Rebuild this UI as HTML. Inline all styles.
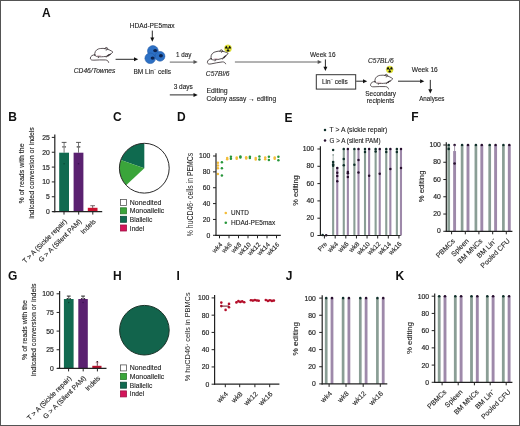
<!DOCTYPE html>
<html><head><meta charset="utf-8"><style>
html,body{margin:0;padding:0;background:#fff;}
svg{display:block;will-change:transform;}
text{font-family:"Liberation Sans", sans-serif;}
text.t{stroke:#262626;stroke-width:0.18px;}
</style></head><body>
<svg width="520" height="426" viewBox="0 0 520 426">
<rect x="0" y="0" width="520" height="426" fill="#fff"/>
<text x="42.00" y="17.40" font-size="12" text-anchor="start" fill="#111" font-weight="bold">A</text>
<g transform="rotate(0 101.65 54.90) translate(87.57,44.36) scale(1.013)" fill="none" stroke="#3c3337" stroke-width="0.82" stroke-linecap="round" stroke-linejoin="round">
<path d="M7.1,10.7 C6.7,8 7.9,5.4 11,4.4 C11.8,4.2 12.4,4.1 13,4.1 C14.6,3.9 16,3.9 17.3,4.2 C19.5,4.6 23.2,5.9 25,7.6 C24,8.9 22.6,9.8 21.4,10.3 C20.4,11.1 19.4,11.7 18.2,11.9 C15,12.3 12,12.4 9.7,12.1 C8.5,11.9 7.6,11.5 7.2,10.6 Z" fill="#fff"/>
<path d="M16.9,4.3 C17.1,2.9 19.1,2.6 19.9,3.9 C19.9,4.9 19.1,5.6 18.3,5.7" stroke-width="0.8"/>
<path d="M7.4,10.3 C5,10.1 3,11.6 2.7,13.5 C2.6,15.2 4.1,15.7 6.2,15.6 C10,15.4 14,15.2 17.8,15.4 C19.7,15.6 20.6,16.6 20.8,17.8" stroke="#3c3337"/>
<path d="M19.2,11.6 L18.6,12.6 M21.3,10.4 L20.6,11.6 M11.2,12.2 L10.6,13.2" stroke-width="0.8"/>
<path d="M9.5,11.2 C11,10.6 12.6,10.9 13.6,11.6" stroke="#c08a9a" stroke-width="0.5"/>
<path d="M19.8,11.2 C20.6,10.4 21.6,9.9 22.4,9.8" stroke-width="1.2"/>
</g>
<text x="73.80" y="72.80" font-size="6.6" text-anchor="start" fill="#1c1c1c" stroke="#1c1c1c" stroke-width="0.12" font-style="italic" textLength="41.60" lengthAdjust="spacingAndGlyphs">CD46/Townes</text>
<line x1="115.60" y1="59.30" x2="134.50" y2="59.30" stroke="#111" stroke-width="0.9"/>
<path d="M138.20,59.30 L134.00,57.30 L134.00,61.30 Z" fill="#111"/>
<text x="129.70" y="27.70" font-size="6.6" text-anchor="start" fill="#1c1c1c" stroke="#1c1c1c" stroke-width="0.12" textLength="45.00" lengthAdjust="spacingAndGlyphs">HDAd-PE5max</text>
<line x1="152.30" y1="30.60" x2="152.30" y2="38.10" stroke="#111" stroke-width="0.9"/>
<path d="M152.30,41.80 L150.30,37.60 L154.30,37.60 Z" fill="#111"/>
<g>
<circle cx="152.90" cy="51.00" r="5.40" fill="#2d70c4" stroke="#1d56a6" stroke-width="0.55"/>
<circle cx="160.00" cy="56.30" r="4.90" fill="#2d70c4" stroke="#1d56a6" stroke-width="0.55"/>
<circle cx="150.20" cy="58.30" r="5.30" fill="#2d70c4" stroke="#1d56a6" stroke-width="0.55"/>
<ellipse cx="155.20" cy="50.60" rx="2.0" ry="1.7" fill="#0b2350"/>
<ellipse cx="160.90" cy="55.80" rx="2.0" ry="1.7" fill="#0b2350"/>
<ellipse cx="152.60" cy="58.10" rx="2.0" ry="1.7" fill="#0b2350"/>
</g>
<text x="133.50" y="73.80" font-size="6.8" text-anchor="start" fill="#1c1c1c" stroke="#1c1c1c" stroke-width="0.12" textLength="37.50" lengthAdjust="spacingAndGlyphs">BM Lin<tspan font-size="4" dy="-2.6">−</tspan><tspan dy="2.6"> cells</tspan></text>
<text x="176.00" y="57.00" font-size="6.6" text-anchor="start" fill="#1c1c1c" stroke="#1c1c1c" stroke-width="0.12" textLength="15.40" lengthAdjust="spacingAndGlyphs">1 day</text>
<line x1="169.80" y1="62.10" x2="194.00" y2="62.10" stroke="#555" stroke-width="0.9"/>
<path d="M197.70,62.10 L193.50,60.10 L193.50,64.10 Z" fill="#555"/>
<g transform="rotate(-9 217.80 57.67) translate(204.14,47.45) scale(0.982)" fill="none" stroke="#3c3337" stroke-width="0.82" stroke-linecap="round" stroke-linejoin="round">
<path d="M7.1,10.7 C6.7,8 7.9,5.4 11,4.4 C11.8,4.2 12.4,4.1 13,4.1 C14.6,3.9 16,3.9 17.3,4.2 C19.5,4.6 23.2,5.9 25,7.6 C24,8.9 22.6,9.8 21.4,10.3 C20.4,11.1 19.4,11.7 18.2,11.9 C15,12.3 12,12.4 9.7,12.1 C8.5,11.9 7.6,11.5 7.2,10.6 Z" fill="#fff"/>
<path d="M16.9,4.3 C17.1,2.9 19.1,2.6 19.9,3.9 C19.9,4.9 19.1,5.6 18.3,5.7" stroke-width="0.8"/>
<path d="M7.4,10.3 C5,10.1 3,11.6 2.7,13.5 C2.6,15.2 4.1,15.7 6.2,15.6 C10,15.4 14,15.2 17.8,15.4 C19.7,15.6 20.6,16.6 20.8,17.8" stroke="#3c3337"/>
<path d="M19.2,11.6 L18.6,12.6 M21.3,10.4 L20.6,11.6 M11.2,12.2 L10.6,13.2" stroke-width="0.8"/>
<path d="M9.5,11.2 C11,10.6 12.6,10.9 13.6,11.6" stroke="#c08a9a" stroke-width="0.5"/>
<path d="M19.8,11.2 C20.6,10.4 21.6,9.9 22.4,9.8" stroke-width="1.2"/>
</g>
<g transform="translate(228.00,48.40)">
<circle r="3.60" fill="#e4e82e" stroke="#c9c83a" stroke-width="0.4"/>
<path d="M0.47,-0.89 L1.44,-2.70 A3.06,3.06 0 0 1 3.06,0.11 L1.01,0.04 Z" fill="#111"/>
<path d="M0.53,0.85 L1.62,2.60 A3.06,3.06 0 0 1 -1.62,2.60 L-0.53,0.85 Z" fill="#111"/>
<path d="M-1.01,0.04 L-3.06,0.11 A3.06,3.06 0 0 1 -1.44,-2.70 L-0.47,-0.89 Z" fill="#111"/>
<circle r="0.65" fill="#111"/>
</g>
<text x="205.80" y="76.40" font-size="6.6" text-anchor="start" fill="#1c1c1c" stroke="#1c1c1c" stroke-width="0.12" font-style="italic" textLength="23.80" lengthAdjust="spacingAndGlyphs">C57Bl/6</text>
<line x1="234.90" y1="62.00" x2="318.20" y2="62.00" stroke="#555" stroke-width="0.9"/>
<path d="M321.90,62.00 L317.70,60.00 L317.70,64.00 Z" fill="#555"/>
<text x="310.00" y="56.70" font-size="6.6" text-anchor="start" fill="#1c1c1c" stroke="#1c1c1c" stroke-width="0.12" textLength="25.60" lengthAdjust="spacingAndGlyphs">Week 16</text>
<line x1="325.40" y1="59.40" x2="325.40" y2="67.20" stroke="#111" stroke-width="0.9"/>
<path d="M325.40,70.90 L323.40,66.70 L327.40,66.70 Z" fill="#111"/>
<rect x="316.30" y="74.70" width="39.40" height="14.40" fill="#fff" stroke="#333" stroke-width="1"/>
<text x="322.00" y="83.60" font-size="6.8" text-anchor="start" fill="#1c1c1c" stroke="#1c1c1c" stroke-width="0.12" textLength="25.70" lengthAdjust="spacingAndGlyphs">Lin<tspan font-size="4" dy="-2.6">−</tspan><tspan dy="2.6"> cells</tspan></text>
<line x1="356.20" y1="81.20" x2="363.50" y2="81.20" stroke="#111" stroke-width="0.9"/>
<path d="M367.20,81.20 L363.00,79.20 L363.00,83.20 Z" fill="#111"/>
<text x="367.90" y="63.40" font-size="6.6" text-anchor="start" fill="#1c1c1c" stroke="#1c1c1c" stroke-width="0.12" font-style="italic" textLength="25.90" lengthAdjust="spacingAndGlyphs">C57BL/6</text>
<g transform="translate(389.70,69.40)">
<circle r="3.50" fill="#e4e82e" stroke="#c9c83a" stroke-width="0.4"/>
<path d="M0.46,-0.87 L1.40,-2.63 A2.98,2.98 0 0 1 2.97,0.10 L0.98,0.03 Z" fill="#111"/>
<path d="M0.52,0.83 L1.58,2.52 A2.98,2.98 0 0 1 -1.58,2.52 L-0.52,0.83 Z" fill="#111"/>
<path d="M-0.98,0.03 L-2.97,0.10 A2.98,2.98 0 0 1 -1.40,-2.63 L-0.46,-0.87 Z" fill="#111"/>
<circle r="0.63" fill="#111"/>
</g>
<g transform="rotate(0 381.70 81.60) translate(367.80,71.20) scale(1.000)" fill="none" stroke="#3c3337" stroke-width="0.82" stroke-linecap="round" stroke-linejoin="round">
<path d="M7.1,10.7 C6.7,8 7.9,5.4 11,4.4 C11.8,4.2 12.4,4.1 13,4.1 C14.6,3.9 16,3.9 17.3,4.2 C19.5,4.6 23.2,5.9 25,7.6 C24,8.9 22.6,9.8 21.4,10.3 C20.4,11.1 19.4,11.7 18.2,11.9 C15,12.3 12,12.4 9.7,12.1 C8.5,11.9 7.6,11.5 7.2,10.6 Z" fill="#fff"/>
<path d="M16.9,4.3 C17.1,2.9 19.1,2.6 19.9,3.9 C19.9,4.9 19.1,5.6 18.3,5.7" stroke-width="0.8"/>
<path d="M7.4,10.3 C5,10.1 3,11.6 2.7,13.5 C2.6,15.2 4.1,15.7 6.2,15.6 C10,15.4 14,15.2 17.8,15.4 C19.7,15.6 20.6,16.6 20.8,17.8" stroke="#3c3337"/>
<path d="M19.2,11.6 L18.6,12.6 M21.3,10.4 L20.6,11.6 M11.2,12.2 L10.6,13.2" stroke-width="0.8"/>
<path d="M9.5,11.2 C11,10.6 12.6,10.9 13.6,11.6" stroke="#c08a9a" stroke-width="0.5"/>
<path d="M19.8,11.2 C20.6,10.4 21.6,9.9 22.4,9.8" stroke-width="1.2"/>
</g>
<text x="365.30" y="95.50" font-size="6.8" text-anchor="start" fill="#1c1c1c" stroke="#1c1c1c" stroke-width="0.12" textLength="30.80" lengthAdjust="spacingAndGlyphs">Secondary</text>
<text x="366.70" y="102.50" font-size="6.8" text-anchor="start" fill="#1c1c1c" stroke="#1c1c1c" stroke-width="0.12" textLength="27.60" lengthAdjust="spacingAndGlyphs">recipients</text>
<line x1="398.00" y1="81.20" x2="420.60" y2="81.20" stroke="#111" stroke-width="0.9"/>
<path d="M424.30,81.20 L420.10,79.20 L420.10,83.20 Z" fill="#111"/>
<text x="411.80" y="71.80" font-size="6.6" text-anchor="start" fill="#1c1c1c" stroke="#1c1c1c" stroke-width="0.12" textLength="26.00" lengthAdjust="spacingAndGlyphs">Week 16</text>
<line x1="430.30" y1="79.90" x2="430.30" y2="89.70" stroke="#111" stroke-width="0.9"/>
<path d="M430.30,93.40 L428.30,89.20 L432.30,89.20 Z" fill="#111"/>
<text x="419.20" y="100.80" font-size="6.8" text-anchor="start" fill="#1c1c1c" stroke="#1c1c1c" stroke-width="0.12" textLength="25.30" lengthAdjust="spacingAndGlyphs">Analyses</text>
<text x="173.70" y="88.60" font-size="6.6" text-anchor="start" fill="#1c1c1c" stroke="#1c1c1c" stroke-width="0.12" textLength="19.20" lengthAdjust="spacingAndGlyphs">3 days</text>
<line x1="169.80" y1="94.90" x2="194.00" y2="94.90" stroke="#111" stroke-width="0.9"/>
<path d="M197.70,94.90 L193.50,92.90 L193.50,96.90 Z" fill="#111"/>
<text x="206.50" y="93.00" font-size="6.8" text-anchor="start" fill="#1c1c1c" stroke="#1c1c1c" stroke-width="0.12" textLength="21.20" lengthAdjust="spacingAndGlyphs">Editing</text>
<text x="206.50" y="101.20" font-size="6.8" text-anchor="start" fill="#1c1c1c" stroke="#1c1c1c" stroke-width="0.12" textLength="69.70" lengthAdjust="spacingAndGlyphs">Colony assay → editing</text>
<text x="8.20" y="121.40" font-size="12" text-anchor="start" fill="#111" font-weight="bold">B</text>
<rect x="59.20" y="152.70" width="9.80" height="58.90" fill="#116a50" stroke="none" stroke-width="0"/>
<rect x="73.60" y="152.70" width="9.80" height="58.90" fill="#5a2170" stroke="none" stroke-width="0"/>
<circle cx="64.10" cy="163.70" r="0.80" fill="#0a4a38" stroke="none" stroke-width="0"/>
<circle cx="78.50" cy="163.70" r="0.80" fill="#3a1050" stroke="none" stroke-width="0"/>
<rect x="87.80" y="207.80" width="9.70" height="3.80" fill="#c8102e" stroke="none" stroke-width="0"/>
<line x1="64.10" y1="152.70" x2="64.10" y2="142.40" stroke="#555" stroke-width="0.8"/>
<line x1="61.70" y1="142.40" x2="66.50" y2="142.40" stroke="#444" stroke-width="0.9"/>
<circle cx="63.00" cy="146.80" r="0.85" fill="#666" stroke="none" stroke-width="0"/>
<circle cx="65.20" cy="146.80" r="0.85" fill="#666" stroke="none" stroke-width="0"/>
<line x1="78.50" y1="152.70" x2="78.50" y2="142.40" stroke="#555" stroke-width="0.8"/>
<line x1="76.10" y1="142.40" x2="80.90" y2="142.40" stroke="#444" stroke-width="0.9"/>
<circle cx="77.40" cy="146.80" r="0.85" fill="#666" stroke="none" stroke-width="0"/>
<circle cx="79.60" cy="146.80" r="0.85" fill="#666" stroke="none" stroke-width="0"/>
<line x1="92.70" y1="207.80" x2="92.70" y2="205.70" stroke="#3a1a20" stroke-width="0.8"/>
<line x1="90.30" y1="205.70" x2="95.00" y2="205.70" stroke="#6a5a60" stroke-width="0.9"/>
<line x1="54.80" y1="134.60" x2="54.80" y2="212.20" stroke="#222" stroke-width="1.2"/>
<line x1="51.80" y1="211.60" x2="54.80" y2="211.60" stroke="#222" stroke-width="1.0"/>
<text x="49.70" y="214.10" font-size="6.8" text-anchor="end" fill="#262626" class="t">0</text>
<line x1="51.80" y1="196.76" x2="54.80" y2="196.76" stroke="#222" stroke-width="1.0"/>
<text x="49.70" y="199.26" font-size="6.8" text-anchor="end" fill="#262626" class="t">5</text>
<line x1="51.80" y1="181.92" x2="54.80" y2="181.92" stroke="#222" stroke-width="1.0"/>
<text x="49.70" y="184.42" font-size="6.8" text-anchor="end" fill="#262626" class="t">10</text>
<line x1="51.80" y1="167.08" x2="54.80" y2="167.08" stroke="#222" stroke-width="1.0"/>
<text x="49.70" y="169.58" font-size="6.8" text-anchor="end" fill="#262626" class="t">15</text>
<line x1="51.80" y1="152.24" x2="54.80" y2="152.24" stroke="#222" stroke-width="1.0"/>
<text x="49.70" y="154.74" font-size="6.8" text-anchor="end" fill="#262626" class="t">20</text>
<line x1="51.80" y1="137.40" x2="54.80" y2="137.40" stroke="#222" stroke-width="1.0"/>
<text x="49.70" y="139.90" font-size="6.8" text-anchor="end" fill="#262626" class="t">25</text>
<line x1="52.50" y1="211.60" x2="102.20" y2="211.60" stroke="#222" stroke-width="1.2"/>
<line x1="64.00" y1="211.60" x2="64.00" y2="214.60" stroke="#222" stroke-width="1.0"/>
<line x1="78.70" y1="211.60" x2="78.70" y2="214.60" stroke="#222" stroke-width="1.0"/>
<line x1="92.80" y1="211.60" x2="92.80" y2="214.60" stroke="#222" stroke-width="1.0"/>
<text x="24.00" y="173.40" font-size="7.6" text-anchor="middle" fill="#1c1c1c" stroke="#1c1c1c" stroke-width="0.12" textLength="60.00" lengthAdjust="spacingAndGlyphs" transform="rotate(-90 24.00 173.40)">% of reads with the</text>
<text x="34.20" y="173.00" font-size="7.6" text-anchor="middle" fill="#1c1c1c" stroke="#1c1c1c" stroke-width="0.12" textLength="91.60" lengthAdjust="spacingAndGlyphs" transform="rotate(-90 34.20 173.00)">indicated conversion or indels</text>
<text x="67.30" y="221.80" font-size="6.8" text-anchor="end" fill="#262626" stroke="#262626" stroke-width="0.12" textLength="59.50" lengthAdjust="spacingAndGlyphs" transform="rotate(-45 67.30 221.80)">T &gt; A (Sickle repair)</text>
<text x="82.00" y="221.80" font-size="6.8" text-anchor="end" fill="#262626" stroke="#262626" stroke-width="0.12" textLength="57.50" lengthAdjust="spacingAndGlyphs" transform="rotate(-45 82.00 221.80)">G &gt; A (Silent PAM)</text>
<text x="96.10" y="221.80" font-size="6.8" text-anchor="end" fill="#262626" stroke="#262626" stroke-width="0.12" textLength="18.00" lengthAdjust="spacingAndGlyphs" transform="rotate(-45 96.10 221.80)">Indels</text>
<text x="113.00" y="121.40" font-size="12" text-anchor="start" fill="#111" font-weight="bold">C</text>
<circle cx="144.30" cy="168.20" r="24.90" fill="#fff" stroke="none" stroke-width="0"/>
<path d="M144.3,168.2 L144.30,143.30 A24.9,24.9 0 0 0 120.76,160.09 Z" fill="#0f6a4f"/>
<path d="M144.3,168.2 L120.76,160.09 A24.9,24.9 0 0 0 126.09,185.18 Z" fill="#3aa53a"/>
<circle cx="144.30" cy="168.20" r="24.90" fill="none" stroke="#2a2a2a" stroke-width="1.0"/>
<rect x="120.50" y="199.40" width="6.00" height="6.00" fill="#fff" stroke="#555" stroke-width="0.8"/>
<text x="129.80" y="204.90" font-size="7.2" text-anchor="start" fill="#1c1c1c" stroke="#1c1c1c" stroke-width="0.12" textLength="31.70" lengthAdjust="spacingAndGlyphs">Nonedited</text>
<rect x="120.50" y="207.80" width="6.00" height="6.00" fill="#3aa53a" stroke="#2a7a2a" stroke-width="0.8"/>
<text x="129.80" y="213.30" font-size="7.2" text-anchor="start" fill="#1c1c1c" stroke="#1c1c1c" stroke-width="0.12" textLength="34.50" lengthAdjust="spacingAndGlyphs">Monoallelic</text>
<rect x="120.50" y="216.30" width="6.00" height="6.00" fill="#0f6a4f" stroke="#0a4a38" stroke-width="0.8"/>
<text x="129.80" y="221.80" font-size="7.2" text-anchor="start" fill="#1c1c1c" stroke="#1c1c1c" stroke-width="0.12" textLength="22.50" lengthAdjust="spacingAndGlyphs">Biallelic</text>
<rect x="120.50" y="225.00" width="6.00" height="6.00" fill="#d4145a" stroke="#a00f45" stroke-width="0.8"/>
<text x="129.80" y="230.50" font-size="7.2" text-anchor="start" fill="#1c1c1c" stroke="#1c1c1c" stroke-width="0.12" textLength="14.50" lengthAdjust="spacingAndGlyphs">Indel</text>
<text x="177.00" y="121.00" font-size="12" text-anchor="start" fill="#111" font-weight="bold">D</text>
<circle cx="217.90" cy="162.74" r="1.25" fill="#f3bd3a" stroke="none" stroke-width="0"/>
<circle cx="217.90" cy="165.52" r="1.25" fill="#f3bd3a" stroke="none" stroke-width="0"/>
<circle cx="217.90" cy="168.13" r="1.25" fill="#f3bd3a" stroke="none" stroke-width="0"/>
<circle cx="217.90" cy="174.08" r="1.25" fill="#f3bd3a" stroke="none" stroke-width="0"/>
<circle cx="221.90" cy="162.34" r="1.25" fill="#27963a" stroke="none" stroke-width="0"/>
<circle cx="221.90" cy="168.37" r="1.25" fill="#27963a" stroke="none" stroke-width="0"/>
<circle cx="221.90" cy="175.51" r="1.25" fill="#27963a" stroke="none" stroke-width="0"/>
<circle cx="227.20" cy="157.98" r="1.25" fill="#f3bd3a" stroke="none" stroke-width="0"/>
<circle cx="227.20" cy="159.33" r="1.25" fill="#f3bd3a" stroke="none" stroke-width="0"/>
<circle cx="230.90" cy="156.63" r="1.25" fill="#27963a" stroke="none" stroke-width="0"/>
<circle cx="230.90" cy="158.70" r="1.25" fill="#27963a" stroke="none" stroke-width="0"/>
<circle cx="236.70" cy="157.59" r="1.25" fill="#f3bd3a" stroke="none" stroke-width="0"/>
<circle cx="236.70" cy="158.78" r="1.25" fill="#f3bd3a" stroke="none" stroke-width="0"/>
<circle cx="240.40" cy="156.40" r="1.25" fill="#27963a" stroke="none" stroke-width="0"/>
<circle cx="240.40" cy="157.59" r="1.25" fill="#27963a" stroke="none" stroke-width="0"/>
<circle cx="246.20" cy="157.19" r="1.25" fill="#f3bd3a" stroke="none" stroke-width="0"/>
<circle cx="246.20" cy="158.38" r="1.25" fill="#f3bd3a" stroke="none" stroke-width="0"/>
<circle cx="249.90" cy="156.79" r="1.25" fill="#27963a" stroke="none" stroke-width="0"/>
<circle cx="249.90" cy="157.98" r="1.25" fill="#27963a" stroke="none" stroke-width="0"/>
<circle cx="255.70" cy="157.98" r="1.25" fill="#f3bd3a" stroke="none" stroke-width="0"/>
<circle cx="255.70" cy="159.57" r="1.25" fill="#f3bd3a" stroke="none" stroke-width="0"/>
<circle cx="259.40" cy="156.40" r="1.25" fill="#27963a" stroke="none" stroke-width="0"/>
<circle cx="259.40" cy="159.57" r="1.25" fill="#27963a" stroke="none" stroke-width="0"/>
<circle cx="265.20" cy="157.59" r="1.25" fill="#f3bd3a" stroke="none" stroke-width="0"/>
<circle cx="265.20" cy="159.17" r="1.25" fill="#f3bd3a" stroke="none" stroke-width="0"/>
<circle cx="268.90" cy="156.79" r="1.25" fill="#27963a" stroke="none" stroke-width="0"/>
<circle cx="268.90" cy="159.97" r="1.25" fill="#27963a" stroke="none" stroke-width="0"/>
<circle cx="274.70" cy="157.59" r="1.25" fill="#f3bd3a" stroke="none" stroke-width="0"/>
<circle cx="274.70" cy="158.78" r="1.25" fill="#f3bd3a" stroke="none" stroke-width="0"/>
<circle cx="278.40" cy="156.79" r="1.25" fill="#27963a" stroke="none" stroke-width="0"/>
<circle cx="278.40" cy="160.36" r="1.25" fill="#27963a" stroke="none" stroke-width="0"/>
<line x1="216.00" y1="153.20" x2="216.00" y2="235.90" stroke="#222" stroke-width="1.2"/>
<line x1="213.00" y1="235.30" x2="216.00" y2="235.30" stroke="#222" stroke-width="1.0"/>
<text x="210.30" y="237.50" font-size="6.8" text-anchor="end" fill="#262626" class="t">0</text>
<line x1="213.00" y1="219.44" x2="216.00" y2="219.44" stroke="#222" stroke-width="1.0"/>
<text x="210.30" y="221.64" font-size="6.8" text-anchor="end" fill="#262626" class="t">20</text>
<line x1="213.00" y1="203.58" x2="216.00" y2="203.58" stroke="#222" stroke-width="1.0"/>
<text x="210.30" y="205.78" font-size="6.8" text-anchor="end" fill="#262626" class="t">40</text>
<line x1="213.00" y1="187.72" x2="216.00" y2="187.72" stroke="#222" stroke-width="1.0"/>
<text x="210.30" y="189.92" font-size="6.8" text-anchor="end" fill="#262626" class="t">60</text>
<line x1="213.00" y1="171.86" x2="216.00" y2="171.86" stroke="#222" stroke-width="1.0"/>
<text x="210.30" y="174.06" font-size="6.8" text-anchor="end" fill="#262626" class="t">80</text>
<line x1="213.00" y1="156.00" x2="216.00" y2="156.00" stroke="#222" stroke-width="1.0"/>
<text x="210.30" y="158.20" font-size="6.8" text-anchor="end" fill="#262626" class="t">100</text>
<line x1="215.40" y1="235.30" x2="280.80" y2="235.30" stroke="#222" stroke-width="1.2"/>
<line x1="219.50" y1="235.30" x2="219.50" y2="238.30" stroke="#222" stroke-width="1.0"/>
<line x1="229.00" y1="235.30" x2="229.00" y2="238.30" stroke="#222" stroke-width="1.0"/>
<line x1="238.50" y1="235.30" x2="238.50" y2="238.30" stroke="#222" stroke-width="1.0"/>
<line x1="248.00" y1="235.30" x2="248.00" y2="238.30" stroke="#222" stroke-width="1.0"/>
<line x1="257.50" y1="235.30" x2="257.50" y2="238.30" stroke="#222" stroke-width="1.0"/>
<line x1="267.00" y1="235.30" x2="267.00" y2="238.30" stroke="#222" stroke-width="1.0"/>
<line x1="276.50" y1="235.30" x2="276.50" y2="238.30" stroke="#222" stroke-width="1.0"/>
<circle cx="225.80" cy="213.00" r="1.30" fill="#f3bd3a" stroke="none" stroke-width="0"/>
<text x="231.00" y="215.40" font-size="7.2" text-anchor="start" fill="#1c1c1c" stroke="#1c1c1c" stroke-width="0.12" textLength="17.80" lengthAdjust="spacingAndGlyphs">UNTD</text>
<circle cx="225.80" cy="222.70" r="1.30" fill="#27963a" stroke="none" stroke-width="0"/>
<text x="231.00" y="225.10" font-size="7.2" text-anchor="start" fill="#1c1c1c" stroke="#1c1c1c" stroke-width="0.12" textLength="44.20" lengthAdjust="spacingAndGlyphs">HDAd-PE5max</text>
<text x="193.40" y="194.50" font-size="8.2" text-anchor="middle" fill="#1c1c1c" textLength="83.30" lengthAdjust="spacingAndGlyphs" transform="rotate(-90 193.40 194.50)" class="n">% huCD46<tspan font-size="4.2" dy="-2.6">+</tspan><tspan dy="2.6"> cells in PEMCs</tspan></text>
<text x="222.80" y="245.10" font-size="6.4" text-anchor="end" fill="#262626" stroke="#262626" stroke-width="0.12" transform="rotate(-45 222.80 245.10)">wk4</text>
<text x="232.30" y="245.10" font-size="6.4" text-anchor="end" fill="#262626" stroke="#262626" stroke-width="0.12" transform="rotate(-45 232.30 245.10)">wk6</text>
<text x="241.80" y="245.10" font-size="6.4" text-anchor="end" fill="#262626" stroke="#262626" stroke-width="0.12" transform="rotate(-45 241.80 245.10)">wk8</text>
<text x="251.30" y="245.10" font-size="6.4" text-anchor="end" fill="#262626" stroke="#262626" stroke-width="0.12" transform="rotate(-45 251.30 245.10)">wk10</text>
<text x="260.80" y="245.10" font-size="6.4" text-anchor="end" fill="#262626" stroke="#262626" stroke-width="0.12" transform="rotate(-45 260.80 245.10)">wk12</text>
<text x="270.30" y="245.10" font-size="6.4" text-anchor="end" fill="#262626" stroke="#262626" stroke-width="0.12" transform="rotate(-45 270.30 245.10)">wk14</text>
<text x="279.80" y="245.10" font-size="6.4" text-anchor="end" fill="#262626" stroke="#262626" stroke-width="0.12" transform="rotate(-45 279.80 245.10)">wk16</text>
<text x="284.60" y="121.60" font-size="12" text-anchor="start" fill="#111" font-weight="bold">E</text>
<circle cx="325.00" cy="130.00" r="1.25" fill="#10302a" stroke="none" stroke-width="0"/>
<text x="329.60" y="132.40" font-size="7.0" text-anchor="start" fill="#1c1c1c" stroke="#1c1c1c" stroke-width="0.12" textLength="57.70" lengthAdjust="spacingAndGlyphs">T &gt; A (sickle repair)</text>
<circle cx="325.00" cy="140.40" r="1.25" fill="#28102f" stroke="none" stroke-width="0"/>
<text x="329.60" y="142.80" font-size="7.0" text-anchor="start" fill="#1c1c1c" stroke="#1c1c1c" stroke-width="0.12" textLength="51.00" lengthAdjust="spacingAndGlyphs">G &gt; A (silent PAM)</text>
<circle cx="322.60" cy="235.07" r="1.25" fill="#10302a" stroke="none" stroke-width="0"/>
<circle cx="326.20" cy="235.24" r="1.25" fill="#28102f" stroke="none" stroke-width="0"/>
<rect x="332.10" y="161.11" width="2.10" height="74.39" fill="#8a9e95" stroke="none" stroke-width="0"/>
<rect x="336.20" y="167.17" width="2.10" height="68.33" fill="#9e89aa" stroke="none" stroke-width="0"/>
<line x1="333.15" y1="161.11" x2="333.15" y2="154.62" stroke="#9aaaa4" stroke-width="0.8"/>
<circle cx="333.15" cy="154.88" r="0.80" fill="#8a9a94" stroke="none" stroke-width="0"/>
<circle cx="333.15" cy="150.04" r="1.25" fill="#10302a" stroke="none" stroke-width="0"/>
<circle cx="333.15" cy="161.97" r="1.25" fill="#10302a" stroke="none" stroke-width="0"/>
<circle cx="333.15" cy="164.57" r="1.25" fill="#10302a" stroke="none" stroke-width="0"/>
<circle cx="333.15" cy="165.87" r="1.25" fill="#10302a" stroke="none" stroke-width="0"/>
<circle cx="337.25" cy="168.03" r="1.25" fill="#28102f" stroke="none" stroke-width="0"/>
<circle cx="337.25" cy="172.79" r="1.25" fill="#28102f" stroke="none" stroke-width="0"/>
<circle cx="337.25" cy="176.07" r="1.25" fill="#28102f" stroke="none" stroke-width="0"/>
<circle cx="337.25" cy="181.35" r="1.25" fill="#28102f" stroke="none" stroke-width="0"/>
<rect x="342.72" y="149.00" width="2.10" height="86.50" fill="#8a9e95" stroke="none" stroke-width="0"/>
<rect x="346.82" y="149.00" width="2.10" height="86.50" fill="#9e89aa" stroke="none" stroke-width="0"/>
<circle cx="343.77" cy="149.00" r="1.25" fill="#10302a" stroke="none" stroke-width="0"/>
<circle cx="343.77" cy="158.95" r="1.25" fill="#10302a" stroke="none" stroke-width="0"/>
<circle cx="343.77" cy="165.26" r="1.25" fill="#10302a" stroke="none" stroke-width="0"/>
<circle cx="347.87" cy="149.00" r="1.25" fill="#28102f" stroke="none" stroke-width="0"/>
<circle cx="347.87" cy="171.92" r="1.25" fill="#28102f" stroke="none" stroke-width="0"/>
<circle cx="347.87" cy="173.22" r="1.25" fill="#28102f" stroke="none" stroke-width="0"/>
<circle cx="347.87" cy="177.03" r="1.25" fill="#28102f" stroke="none" stroke-width="0"/>
<rect x="353.34" y="149.00" width="2.10" height="86.50" fill="#8a9e95" stroke="none" stroke-width="0"/>
<rect x="357.44" y="149.00" width="2.10" height="86.50" fill="#9e89aa" stroke="none" stroke-width="0"/>
<circle cx="354.39" cy="149.00" r="1.25" fill="#10302a" stroke="none" stroke-width="0"/>
<circle cx="354.39" cy="164.74" r="1.25" fill="#10302a" stroke="none" stroke-width="0"/>
<circle cx="358.49" cy="149.00" r="1.25" fill="#28102f" stroke="none" stroke-width="0"/>
<circle cx="358.49" cy="160.07" r="1.25" fill="#28102f" stroke="none" stroke-width="0"/>
<circle cx="358.49" cy="172.53" r="1.25" fill="#28102f" stroke="none" stroke-width="0"/>
<rect x="363.96" y="149.00" width="2.10" height="86.50" fill="#8a9e95" stroke="none" stroke-width="0"/>
<rect x="368.06" y="149.00" width="2.10" height="86.50" fill="#9e89aa" stroke="none" stroke-width="0"/>
<circle cx="365.01" cy="149.00" r="1.25" fill="#10302a" stroke="none" stroke-width="0"/>
<circle cx="365.01" cy="152.03" r="1.25" fill="#10302a" stroke="none" stroke-width="0"/>
<circle cx="369.11" cy="149.00" r="1.25" fill="#28102f" stroke="none" stroke-width="0"/>
<circle cx="369.11" cy="175.81" r="1.25" fill="#28102f" stroke="none" stroke-width="0"/>
<rect x="374.58" y="149.00" width="2.10" height="86.50" fill="#8a9e95" stroke="none" stroke-width="0"/>
<rect x="378.68" y="149.00" width="2.10" height="86.50" fill="#9e89aa" stroke="none" stroke-width="0"/>
<circle cx="375.63" cy="149.00" r="1.25" fill="#10302a" stroke="none" stroke-width="0"/>
<circle cx="375.63" cy="151.59" r="1.25" fill="#10302a" stroke="none" stroke-width="0"/>
<circle cx="379.73" cy="149.00" r="1.25" fill="#28102f" stroke="none" stroke-width="0"/>
<circle cx="379.73" cy="173.65" r="1.25" fill="#28102f" stroke="none" stroke-width="0"/>
<rect x="385.20" y="149.00" width="2.10" height="86.50" fill="#8a9e95" stroke="none" stroke-width="0"/>
<rect x="389.30" y="149.00" width="2.10" height="86.50" fill="#9e89aa" stroke="none" stroke-width="0"/>
<circle cx="386.25" cy="149.00" r="1.25" fill="#10302a" stroke="none" stroke-width="0"/>
<circle cx="386.25" cy="152.03" r="1.25" fill="#10302a" stroke="none" stroke-width="0"/>
<circle cx="390.35" cy="149.00" r="1.25" fill="#28102f" stroke="none" stroke-width="0"/>
<circle cx="390.35" cy="168.89" r="1.25" fill="#28102f" stroke="none" stroke-width="0"/>
<rect x="395.82" y="149.00" width="2.10" height="86.50" fill="#8a9e95" stroke="none" stroke-width="0"/>
<rect x="399.92" y="149.00" width="2.10" height="86.50" fill="#9e89aa" stroke="none" stroke-width="0"/>
<circle cx="396.87" cy="149.00" r="1.25" fill="#10302a" stroke="none" stroke-width="0"/>
<circle cx="396.87" cy="152.03" r="1.25" fill="#10302a" stroke="none" stroke-width="0"/>
<circle cx="400.97" cy="149.00" r="1.25" fill="#28102f" stroke="none" stroke-width="0"/>
<circle cx="400.97" cy="168.03" r="1.25" fill="#28102f" stroke="none" stroke-width="0"/>
<line x1="320.40" y1="146.20" x2="320.40" y2="236.10" stroke="#222" stroke-width="1.2"/>
<line x1="317.40" y1="235.50" x2="320.40" y2="235.50" stroke="#222" stroke-width="1.0"/>
<text x="314.10" y="237.40" font-size="6.8" text-anchor="end" fill="#262626" class="t">0</text>
<line x1="317.40" y1="218.20" x2="320.40" y2="218.20" stroke="#222" stroke-width="1.0"/>
<text x="314.10" y="220.10" font-size="6.8" text-anchor="end" fill="#262626" class="t">20</text>
<line x1="317.40" y1="200.90" x2="320.40" y2="200.90" stroke="#222" stroke-width="1.0"/>
<text x="314.10" y="202.80" font-size="6.8" text-anchor="end" fill="#262626" class="t">40</text>
<line x1="317.40" y1="183.60" x2="320.40" y2="183.60" stroke="#222" stroke-width="1.0"/>
<text x="314.10" y="185.50" font-size="6.8" text-anchor="end" fill="#262626" class="t">60</text>
<line x1="317.40" y1="166.30" x2="320.40" y2="166.30" stroke="#222" stroke-width="1.0"/>
<text x="314.10" y="168.20" font-size="6.8" text-anchor="end" fill="#262626" class="t">80</text>
<line x1="317.40" y1="149.00" x2="320.40" y2="149.00" stroke="#222" stroke-width="1.0"/>
<text x="314.10" y="150.90" font-size="6.8" text-anchor="end" fill="#262626" class="t">100</text>
<line x1="319.80" y1="235.50" x2="400.60" y2="235.50" stroke="#222" stroke-width="1.2"/>
<line x1="324.40" y1="235.50" x2="324.40" y2="238.50" stroke="#222" stroke-width="1.0"/>
<line x1="335.20" y1="235.50" x2="335.20" y2="238.50" stroke="#222" stroke-width="1.0"/>
<line x1="345.82" y1="235.50" x2="345.82" y2="238.50" stroke="#222" stroke-width="1.0"/>
<line x1="356.44" y1="235.50" x2="356.44" y2="238.50" stroke="#222" stroke-width="1.0"/>
<line x1="367.06" y1="235.50" x2="367.06" y2="238.50" stroke="#222" stroke-width="1.0"/>
<line x1="377.68" y1="235.50" x2="377.68" y2="238.50" stroke="#222" stroke-width="1.0"/>
<line x1="388.30" y1="235.50" x2="388.30" y2="238.50" stroke="#222" stroke-width="1.0"/>
<line x1="398.92" y1="235.50" x2="398.92" y2="238.50" stroke="#222" stroke-width="1.0"/>
<text x="298.00" y="190.50" font-size="7.6" text-anchor="middle" fill="#1c1c1c" stroke="#1c1c1c" stroke-width="0.12" textLength="30.50" lengthAdjust="spacingAndGlyphs" transform="rotate(-90 298.00 190.50)">% editing</text>
<text x="327.70" y="244.40" font-size="6.6" text-anchor="end" fill="#262626" stroke="#262626" stroke-width="0.12" transform="rotate(-45 327.70 244.40)">Pre</text>
<text x="338.50" y="244.40" font-size="6.6" text-anchor="end" fill="#262626" stroke="#262626" stroke-width="0.12" transform="rotate(-45 338.50 244.40)">wk4</text>
<text x="349.12" y="244.40" font-size="6.6" text-anchor="end" fill="#262626" stroke="#262626" stroke-width="0.12" transform="rotate(-45 349.12 244.40)">wk6</text>
<text x="359.74" y="244.40" font-size="6.6" text-anchor="end" fill="#262626" stroke="#262626" stroke-width="0.12" transform="rotate(-45 359.74 244.40)">wk8</text>
<text x="370.36" y="244.40" font-size="6.6" text-anchor="end" fill="#262626" stroke="#262626" stroke-width="0.12" transform="rotate(-45 370.36 244.40)">wk10</text>
<text x="380.98" y="244.40" font-size="6.6" text-anchor="end" fill="#262626" stroke="#262626" stroke-width="0.12" transform="rotate(-45 380.98 244.40)">wk12</text>
<text x="391.60" y="244.40" font-size="6.6" text-anchor="end" fill="#262626" stroke="#262626" stroke-width="0.12" transform="rotate(-45 391.60 244.40)">wk14</text>
<text x="402.22" y="244.40" font-size="6.6" text-anchor="end" fill="#262626" stroke="#262626" stroke-width="0.12" transform="rotate(-45 402.22 244.40)">wk16</text>
<text x="411.30" y="120.70" font-size="12" text-anchor="start" fill="#111" font-weight="bold">F</text>
<rect x="447.35" y="145.00" width="2.70" height="86.30" fill="#8a9e95" stroke="none" stroke-width="0"/>
<rect x="453.15" y="151.04" width="2.90" height="80.26" fill="#9e89aa" stroke="none" stroke-width="0"/>
<circle cx="448.70" cy="145.00" r="1.30" fill="#10302a" stroke="none" stroke-width="0"/>
<circle cx="454.60" cy="145.00" r="1.30" fill="#28102f" stroke="none" stroke-width="0"/>
<circle cx="448.70" cy="148.88" r="1.30" fill="#10302a" stroke="none" stroke-width="0"/>
<circle cx="454.60" cy="163.55" r="1.30" fill="#28102f" stroke="none" stroke-width="0"/>
<line x1="454.60" y1="151.04" x2="454.60" y2="145.00" stroke="#6a5075" stroke-width="0.6"/>
<rect x="460.75" y="145.00" width="2.70" height="86.30" fill="#8a9e95" stroke="none" stroke-width="0"/>
<rect x="466.55" y="145.00" width="2.90" height="86.30" fill="#9e89aa" stroke="none" stroke-width="0"/>
<circle cx="462.10" cy="145.00" r="1.30" fill="#10302a" stroke="none" stroke-width="0"/>
<circle cx="468.00" cy="145.00" r="1.30" fill="#28102f" stroke="none" stroke-width="0"/>
<rect x="474.55" y="145.00" width="2.70" height="86.30" fill="#8a9e95" stroke="none" stroke-width="0"/>
<rect x="480.35" y="145.00" width="2.90" height="86.30" fill="#9e89aa" stroke="none" stroke-width="0"/>
<circle cx="475.90" cy="145.00" r="1.30" fill="#10302a" stroke="none" stroke-width="0"/>
<circle cx="481.80" cy="145.00" r="1.30" fill="#28102f" stroke="none" stroke-width="0"/>
<rect x="488.35" y="145.00" width="2.70" height="86.30" fill="#8a9e95" stroke="none" stroke-width="0"/>
<rect x="494.15" y="145.00" width="2.90" height="86.30" fill="#9e89aa" stroke="none" stroke-width="0"/>
<circle cx="489.70" cy="145.00" r="1.30" fill="#10302a" stroke="none" stroke-width="0"/>
<circle cx="495.60" cy="145.00" r="1.30" fill="#28102f" stroke="none" stroke-width="0"/>
<rect x="502.05" y="145.00" width="2.70" height="86.30" fill="#8a9e95" stroke="none" stroke-width="0"/>
<rect x="507.85" y="145.00" width="2.90" height="86.30" fill="#9e89aa" stroke="none" stroke-width="0"/>
<circle cx="503.40" cy="145.00" r="1.30" fill="#10302a" stroke="none" stroke-width="0"/>
<circle cx="509.30" cy="145.00" r="1.30" fill="#28102f" stroke="none" stroke-width="0"/>
<line x1="446.30" y1="142.20" x2="446.30" y2="231.90" stroke="#222" stroke-width="1.2"/>
<line x1="443.30" y1="231.30" x2="446.30" y2="231.30" stroke="#222" stroke-width="1.0"/>
<text x="440.80" y="233.40" font-size="6.8" text-anchor="end" fill="#262626" class="t">0</text>
<line x1="443.30" y1="214.04" x2="446.30" y2="214.04" stroke="#222" stroke-width="1.0"/>
<text x="440.80" y="216.14" font-size="6.8" text-anchor="end" fill="#262626" class="t">20</text>
<line x1="443.30" y1="196.78" x2="446.30" y2="196.78" stroke="#222" stroke-width="1.0"/>
<text x="440.80" y="198.88" font-size="6.8" text-anchor="end" fill="#262626" class="t">40</text>
<line x1="443.30" y1="179.52" x2="446.30" y2="179.52" stroke="#222" stroke-width="1.0"/>
<text x="440.80" y="181.62" font-size="6.8" text-anchor="end" fill="#262626" class="t">60</text>
<line x1="443.30" y1="162.26" x2="446.30" y2="162.26" stroke="#222" stroke-width="1.0"/>
<text x="440.80" y="164.36" font-size="6.8" text-anchor="end" fill="#262626" class="t">80</text>
<line x1="443.30" y1="145.00" x2="446.30" y2="145.00" stroke="#222" stroke-width="1.0"/>
<text x="440.80" y="147.10" font-size="6.8" text-anchor="end" fill="#262626" class="t">100</text>
<line x1="445.70" y1="231.30" x2="512.40" y2="231.30" stroke="#222" stroke-width="1.2"/>
<line x1="451.60" y1="231.30" x2="451.60" y2="234.30" stroke="#222" stroke-width="1.0"/>
<line x1="465.30" y1="231.30" x2="465.30" y2="234.30" stroke="#222" stroke-width="1.0"/>
<line x1="478.90" y1="231.30" x2="478.90" y2="234.30" stroke="#222" stroke-width="1.0"/>
<line x1="492.70" y1="231.30" x2="492.70" y2="234.30" stroke="#222" stroke-width="1.0"/>
<line x1="506.30" y1="231.30" x2="506.30" y2="234.30" stroke="#222" stroke-width="1.0"/>
<text x="423.60" y="186.40" font-size="7.6" text-anchor="middle" fill="#1c1c1c" stroke="#1c1c1c" stroke-width="0.12" textLength="31.70" lengthAdjust="spacingAndGlyphs" transform="rotate(-90 423.60 186.40)">% editing</text>
<text x="455.60" y="241.50" font-size="7.0" text-anchor="end" fill="#262626" stroke="#262626" stroke-width="0.12" transform="rotate(-45 455.60 241.50)">PBMCs</text>
<text x="469.30" y="241.50" font-size="7.0" text-anchor="end" fill="#262626" stroke="#262626" stroke-width="0.12" transform="rotate(-45 469.30 241.50)">Spleen</text>
<text x="482.90" y="241.50" font-size="7.0" text-anchor="end" fill="#262626" stroke="#262626" stroke-width="0.12" transform="rotate(-45 482.90 241.50)">BM MNCs</text>
<text x="496.70" y="241.50" font-size="7.0" text-anchor="end" fill="#262626" stroke="#262626" stroke-width="0.12" transform="rotate(-45 496.70 241.50)">BM Lin<tspan font-size="4" dy="-2.6">−</tspan><tspan dy="2.6"></tspan></text>
<text x="510.30" y="241.50" font-size="7.0" text-anchor="end" fill="#262626" stroke="#262626" stroke-width="0.12" transform="rotate(-45 510.30 241.50)">Pooled CFU</text>
<text x="8.00" y="279.80" font-size="12" text-anchor="start" fill="#111" font-weight="bold">G</text>
<rect x="63.90" y="299.02" width="9.70" height="69.38" fill="#116a50" stroke="none" stroke-width="0"/>
<rect x="78.30" y="299.02" width="9.50" height="69.38" fill="#5a2170" stroke="none" stroke-width="0"/>
<rect x="92.30" y="365.80" width="9.20" height="2.60" fill="#b8102c" stroke="none" stroke-width="0"/>
<line x1="68.75" y1="299.02" x2="68.75" y2="296.10" stroke="#333" stroke-width="0.8"/>
<line x1="66.85" y1="296.10" x2="70.65" y2="296.10" stroke="#222" stroke-width="1.0"/>
<circle cx="67.35" cy="298.70" r="0.80" fill="#1a2a25" stroke="none" stroke-width="0"/>
<circle cx="70.15" cy="298.70" r="0.80" fill="#1a2a25" stroke="none" stroke-width="0"/>
<circle cx="68.75" cy="302.50" r="0.70" fill="#0a3a2a" stroke="none" stroke-width="0"/>
<line x1="83.05" y1="299.02" x2="83.05" y2="296.10" stroke="#333" stroke-width="0.8"/>
<line x1="81.15" y1="296.10" x2="84.95" y2="296.10" stroke="#222" stroke-width="1.0"/>
<circle cx="81.65" cy="298.70" r="0.80" fill="#2a1530" stroke="none" stroke-width="0"/>
<circle cx="84.45" cy="298.70" r="0.80" fill="#2a1530" stroke="none" stroke-width="0"/>
<circle cx="83.05" cy="302.50" r="0.70" fill="#3a1050" stroke="none" stroke-width="0"/>
<line x1="97.30" y1="365.80" x2="97.30" y2="361.80" stroke="#3a0a18" stroke-width="0.8"/>
<circle cx="97.30" cy="361.90" r="0.90" fill="#2a0a12" stroke="none" stroke-width="0"/>
<line x1="95.30" y1="362.80" x2="99.30" y2="362.80" stroke="#e0a0b0" stroke-width="0.6"/>
<line x1="59.60" y1="291.00" x2="59.60" y2="369.00" stroke="#222" stroke-width="1.2"/>
<line x1="56.60" y1="368.40" x2="59.60" y2="368.40" stroke="#222" stroke-width="1.0"/>
<text x="53.70" y="370.90" font-size="6.8" text-anchor="end" fill="#262626" class="t">0</text>
<line x1="56.60" y1="349.75" x2="59.60" y2="349.75" stroke="#222" stroke-width="1.0"/>
<text x="53.70" y="352.25" font-size="6.8" text-anchor="end" fill="#262626" class="t">25</text>
<line x1="56.60" y1="331.10" x2="59.60" y2="331.10" stroke="#222" stroke-width="1.0"/>
<text x="53.70" y="333.60" font-size="6.8" text-anchor="end" fill="#262626" class="t">50</text>
<line x1="56.60" y1="312.45" x2="59.60" y2="312.45" stroke="#222" stroke-width="1.0"/>
<text x="53.70" y="314.95" font-size="6.8" text-anchor="end" fill="#262626" class="t">75</text>
<line x1="56.60" y1="293.80" x2="59.60" y2="293.80" stroke="#222" stroke-width="1.0"/>
<text x="53.70" y="296.30" font-size="6.8" text-anchor="end" fill="#262626" class="t">100</text>
<line x1="57.40" y1="368.40" x2="106.50" y2="368.40" stroke="#222" stroke-width="1.2"/>
<line x1="68.60" y1="368.40" x2="68.60" y2="371.40" stroke="#222" stroke-width="1.0"/>
<line x1="83.20" y1="368.40" x2="83.20" y2="371.40" stroke="#222" stroke-width="1.0"/>
<line x1="97.40" y1="368.40" x2="97.40" y2="371.40" stroke="#222" stroke-width="1.0"/>
<text x="26.80" y="330.00" font-size="7.6" text-anchor="middle" fill="#1c1c1c" stroke="#1c1c1c" stroke-width="0.12" textLength="59.80" lengthAdjust="spacingAndGlyphs" transform="rotate(-90 26.80 330.00)">% of reads with the</text>
<text x="36.30" y="329.90" font-size="7.6" text-anchor="middle" fill="#1c1c1c" stroke="#1c1c1c" stroke-width="0.12" textLength="92.70" lengthAdjust="spacingAndGlyphs" transform="rotate(-90 36.30 329.90)">indicated conversion or indels</text>
<text x="71.90" y="378.60" font-size="6.8" text-anchor="end" fill="#262626" stroke="#262626" stroke-width="0.12" textLength="59.50" lengthAdjust="spacingAndGlyphs" transform="rotate(-45 71.90 378.60)">T &gt; A (Sickle repair)</text>
<text x="86.50" y="378.60" font-size="6.8" text-anchor="end" fill="#262626" stroke="#262626" stroke-width="0.12" textLength="57.50" lengthAdjust="spacingAndGlyphs" transform="rotate(-45 86.50 378.60)">G &gt; A (Silent PAM)</text>
<text x="100.70" y="378.60" font-size="6.8" text-anchor="end" fill="#262626" stroke="#262626" stroke-width="0.12" textLength="18.00" lengthAdjust="spacingAndGlyphs" transform="rotate(-45 100.70 378.60)">Indels</text>
<text x="113.10" y="279.50" font-size="12" text-anchor="start" fill="#111" font-weight="bold">H</text>
<circle cx="144.40" cy="330.20" r="24.80" fill="#12644c" stroke="#1a3329" stroke-width="1.0"/>
<rect x="120.50" y="364.90" width="6.00" height="6.00" fill="#fff" stroke="#555" stroke-width="0.8"/>
<text x="129.80" y="370.40" font-size="7.2" text-anchor="start" fill="#1c1c1c" stroke="#1c1c1c" stroke-width="0.12" textLength="31.70" lengthAdjust="spacingAndGlyphs">Nonedited</text>
<rect x="120.50" y="373.50" width="6.00" height="6.00" fill="#3aa53a" stroke="#2a7a2a" stroke-width="0.8"/>
<text x="129.80" y="379.00" font-size="7.2" text-anchor="start" fill="#1c1c1c" stroke="#1c1c1c" stroke-width="0.12" textLength="34.50" lengthAdjust="spacingAndGlyphs">Monoallelic</text>
<rect x="120.50" y="382.20" width="6.00" height="6.00" fill="#0f6a4f" stroke="#0a4a38" stroke-width="0.8"/>
<text x="129.80" y="387.70" font-size="7.2" text-anchor="start" fill="#1c1c1c" stroke="#1c1c1c" stroke-width="0.12" textLength="22.50" lengthAdjust="spacingAndGlyphs">Biallelic</text>
<rect x="120.50" y="390.90" width="6.00" height="6.00" fill="#d4145a" stroke="#a00f45" stroke-width="0.8"/>
<text x="129.80" y="396.40" font-size="7.2" text-anchor="start" fill="#1c1c1c" stroke="#1c1c1c" stroke-width="0.12" textLength="14.50" lengthAdjust="spacingAndGlyphs">Indel</text>
<text x="176.50" y="279.50" font-size="12" text-anchor="start" fill="#111" font-weight="bold">I</text>
<circle cx="221.30" cy="302.60" r="1.30" fill="#b40f2b" stroke="none" stroke-width="0"/>
<circle cx="229.00" cy="303.90" r="1.30" fill="#b40f2b" stroke="none" stroke-width="0"/>
<circle cx="221.30" cy="306.10" r="1.30" fill="#b40f2b" stroke="none" stroke-width="0"/>
<circle cx="229.00" cy="307.30" r="1.30" fill="#b40f2b" stroke="none" stroke-width="0"/>
<circle cx="225.60" cy="309.90" r="1.30" fill="#b40f2b" stroke="none" stroke-width="0"/>
<line x1="221.30" y1="306.10" x2="229.00" y2="306.10" stroke="#6a1224" stroke-width="1.0"/>
<circle cx="236.40" cy="302.40" r="1.30" fill="#b40f2b" stroke="none" stroke-width="0"/>
<circle cx="238.40" cy="301.00" r="1.30" fill="#b40f2b" stroke="none" stroke-width="0"/>
<circle cx="240.30" cy="301.90" r="1.30" fill="#b40f2b" stroke="none" stroke-width="0"/>
<circle cx="242.20" cy="301.20" r="1.30" fill="#b40f2b" stroke="none" stroke-width="0"/>
<circle cx="244.20" cy="302.30" r="1.30" fill="#b40f2b" stroke="none" stroke-width="0"/>
<line x1="236.20" y1="301.90" x2="244.40" y2="301.90" stroke="#b40f2b" stroke-width="1.0"/>
<circle cx="250.90" cy="300.20" r="1.30" fill="#b40f2b" stroke="none" stroke-width="0"/>
<circle cx="252.90" cy="300.60" r="1.30" fill="#b40f2b" stroke="none" stroke-width="0"/>
<circle cx="254.90" cy="300.10" r="1.30" fill="#b40f2b" stroke="none" stroke-width="0"/>
<circle cx="256.90" cy="300.50" r="1.30" fill="#b40f2b" stroke="none" stroke-width="0"/>
<circle cx="258.70" cy="300.80" r="1.30" fill="#b40f2b" stroke="none" stroke-width="0"/>
<line x1="250.50" y1="300.40" x2="259.20" y2="300.40" stroke="#b40f2b" stroke-width="1.2"/>
<circle cx="265.80" cy="300.00" r="1.30" fill="#b40f2b" stroke="none" stroke-width="0"/>
<circle cx="267.90" cy="300.90" r="1.30" fill="#b40f2b" stroke="none" stroke-width="0"/>
<circle cx="269.90" cy="300.20" r="1.30" fill="#b40f2b" stroke="none" stroke-width="0"/>
<circle cx="271.90" cy="300.90" r="1.30" fill="#b40f2b" stroke="none" stroke-width="0"/>
<circle cx="273.90" cy="300.60" r="1.30" fill="#b40f2b" stroke="none" stroke-width="0"/>
<line x1="265.50" y1="300.50" x2="274.30" y2="300.50" stroke="#b40f2b" stroke-width="1.2"/>
<line x1="214.60" y1="295.10" x2="214.60" y2="384.80" stroke="#222" stroke-width="1.2"/>
<line x1="211.60" y1="384.20" x2="214.60" y2="384.20" stroke="#222" stroke-width="1.0"/>
<text x="209.30" y="386.70" font-size="6.8" text-anchor="end" fill="#262626" class="t">0</text>
<line x1="211.60" y1="366.94" x2="214.60" y2="366.94" stroke="#222" stroke-width="1.0"/>
<text x="209.30" y="369.44" font-size="6.8" text-anchor="end" fill="#262626" class="t">20</text>
<line x1="211.60" y1="349.68" x2="214.60" y2="349.68" stroke="#222" stroke-width="1.0"/>
<text x="209.30" y="352.18" font-size="6.8" text-anchor="end" fill="#262626" class="t">40</text>
<line x1="211.60" y1="332.42" x2="214.60" y2="332.42" stroke="#222" stroke-width="1.0"/>
<text x="209.30" y="334.92" font-size="6.8" text-anchor="end" fill="#262626" class="t">60</text>
<line x1="211.60" y1="315.16" x2="214.60" y2="315.16" stroke="#222" stroke-width="1.0"/>
<text x="209.30" y="317.66" font-size="6.8" text-anchor="end" fill="#262626" class="t">80</text>
<line x1="211.60" y1="297.90" x2="214.60" y2="297.90" stroke="#222" stroke-width="1.0"/>
<text x="209.30" y="300.40" font-size="6.8" text-anchor="end" fill="#262626" class="t">100</text>
<line x1="214.00" y1="384.20" x2="279.40" y2="384.20" stroke="#222" stroke-width="1.2"/>
<line x1="225.30" y1="384.20" x2="225.30" y2="387.20" stroke="#222" stroke-width="1.0"/>
<line x1="239.70" y1="384.20" x2="239.70" y2="387.20" stroke="#222" stroke-width="1.0"/>
<line x1="254.90" y1="384.20" x2="254.90" y2="387.20" stroke="#222" stroke-width="1.0"/>
<line x1="269.70" y1="384.20" x2="269.70" y2="387.20" stroke="#222" stroke-width="1.0"/>
<text x="190.20" y="336.90" font-size="8.0" text-anchor="middle" fill="#1c1c1c" textLength="88.90" lengthAdjust="spacingAndGlyphs" transform="rotate(-90 190.20 336.90)" class="n">% huCD46<tspan font-size="4.2" dy="-2.6">+</tspan><tspan dy="2.6"> cells in PBMCs</tspan></text>
<text x="228.60" y="394.40" font-size="7.0" text-anchor="end" fill="#262626" stroke="#262626" stroke-width="0.12" transform="rotate(-45 228.60 394.40)">wk4</text>
<text x="243.00" y="394.40" font-size="7.0" text-anchor="end" fill="#262626" stroke="#262626" stroke-width="0.12" transform="rotate(-45 243.00 394.40)">wk8</text>
<text x="258.20" y="394.40" font-size="7.0" text-anchor="end" fill="#262626" stroke="#262626" stroke-width="0.12" transform="rotate(-45 258.20 394.40)">wk12</text>
<text x="273.00" y="394.40" font-size="7.0" text-anchor="end" fill="#262626" stroke="#262626" stroke-width="0.12" transform="rotate(-45 273.00 394.40)">wk16</text>
<text x="285.80" y="279.60" font-size="12" text-anchor="start" fill="#111" font-weight="bold">J</text>
<rect x="324.85" y="298.10" width="2.70" height="85.80" fill="#8a9e95" stroke="none" stroke-width="0"/>
<rect x="330.60" y="298.10" width="2.80" height="85.80" fill="#9e89aa" stroke="none" stroke-width="0"/>
<circle cx="326.20" cy="298.10" r="1.30" fill="#10302a" stroke="none" stroke-width="0"/>
<circle cx="332.00" cy="298.10" r="1.30" fill="#28102f" stroke="none" stroke-width="0"/>
<rect x="341.75" y="298.10" width="2.70" height="85.80" fill="#8a9e95" stroke="none" stroke-width="0"/>
<rect x="347.50" y="298.10" width="2.80" height="85.80" fill="#9e89aa" stroke="none" stroke-width="0"/>
<circle cx="343.10" cy="298.10" r="1.30" fill="#10302a" stroke="none" stroke-width="0"/>
<circle cx="348.90" cy="298.10" r="1.30" fill="#28102f" stroke="none" stroke-width="0"/>
<rect x="358.95" y="298.10" width="2.70" height="85.80" fill="#8a9e95" stroke="none" stroke-width="0"/>
<rect x="364.70" y="298.10" width="2.80" height="85.80" fill="#9e89aa" stroke="none" stroke-width="0"/>
<circle cx="360.30" cy="298.10" r="1.30" fill="#10302a" stroke="none" stroke-width="0"/>
<circle cx="366.10" cy="298.10" r="1.30" fill="#28102f" stroke="none" stroke-width="0"/>
<rect x="376.05" y="298.10" width="2.70" height="85.80" fill="#8a9e95" stroke="none" stroke-width="0"/>
<rect x="381.80" y="298.10" width="2.80" height="85.80" fill="#9e89aa" stroke="none" stroke-width="0"/>
<circle cx="377.40" cy="298.10" r="1.30" fill="#10302a" stroke="none" stroke-width="0"/>
<circle cx="383.20" cy="298.10" r="1.30" fill="#28102f" stroke="none" stroke-width="0"/>
<line x1="322.20" y1="295.30" x2="322.20" y2="384.50" stroke="#222" stroke-width="1.2"/>
<line x1="319.20" y1="383.90" x2="322.20" y2="383.90" stroke="#222" stroke-width="1.0"/>
<text x="315.80" y="386.40" font-size="6.8" text-anchor="end" fill="#262626" class="t">0</text>
<line x1="319.20" y1="366.74" x2="322.20" y2="366.74" stroke="#222" stroke-width="1.0"/>
<text x="315.80" y="369.24" font-size="6.8" text-anchor="end" fill="#262626" class="t">20</text>
<line x1="319.20" y1="349.58" x2="322.20" y2="349.58" stroke="#222" stroke-width="1.0"/>
<text x="315.80" y="352.08" font-size="6.8" text-anchor="end" fill="#262626" class="t">40</text>
<line x1="319.20" y1="332.42" x2="322.20" y2="332.42" stroke="#222" stroke-width="1.0"/>
<text x="315.80" y="334.92" font-size="6.8" text-anchor="end" fill="#262626" class="t">60</text>
<line x1="319.20" y1="315.26" x2="322.20" y2="315.26" stroke="#222" stroke-width="1.0"/>
<text x="315.80" y="317.76" font-size="6.8" text-anchor="end" fill="#262626" class="t">80</text>
<line x1="319.20" y1="298.10" x2="322.20" y2="298.10" stroke="#222" stroke-width="1.0"/>
<text x="315.80" y="300.60" font-size="6.8" text-anchor="end" fill="#262626" class="t">100</text>
<line x1="321.60" y1="383.90" x2="387.30" y2="383.90" stroke="#222" stroke-width="1.2"/>
<line x1="329.10" y1="383.90" x2="329.10" y2="386.90" stroke="#222" stroke-width="1.0"/>
<line x1="346.00" y1="383.90" x2="346.00" y2="386.90" stroke="#222" stroke-width="1.0"/>
<line x1="363.20" y1="383.90" x2="363.20" y2="386.90" stroke="#222" stroke-width="1.0"/>
<line x1="380.30" y1="383.90" x2="380.30" y2="386.90" stroke="#222" stroke-width="1.0"/>
<text x="298.50" y="338.70" font-size="7.6" text-anchor="middle" fill="#1c1c1c" stroke="#1c1c1c" stroke-width="0.12" textLength="33.40" lengthAdjust="spacingAndGlyphs" transform="rotate(-90 298.50 338.70)">% editing</text>
<text x="332.40" y="394.10" font-size="7.0" text-anchor="end" fill="#262626" stroke="#262626" stroke-width="0.12" transform="rotate(-45 332.40 394.10)">wk4</text>
<text x="349.30" y="394.10" font-size="7.0" text-anchor="end" fill="#262626" stroke="#262626" stroke-width="0.12" transform="rotate(-45 349.30 394.10)">wk8</text>
<text x="366.50" y="394.10" font-size="7.0" text-anchor="end" fill="#262626" stroke="#262626" stroke-width="0.12" transform="rotate(-45 366.50 394.10)">wk12</text>
<text x="383.60" y="394.10" font-size="7.0" text-anchor="end" fill="#262626" stroke="#262626" stroke-width="0.12" transform="rotate(-45 383.60 394.10)">wk16</text>
<text x="395.60" y="279.60" font-size="12" text-anchor="start" fill="#111" font-weight="bold">K</text>
<rect x="437.80" y="296.20" width="2.80" height="86.10" fill="#8a9e95" stroke="none" stroke-width="0"/>
<rect x="443.55" y="296.20" width="2.90" height="86.10" fill="#9e89aa" stroke="none" stroke-width="0"/>
<circle cx="439.20" cy="296.20" r="1.30" fill="#10302a" stroke="none" stroke-width="0"/>
<circle cx="445.00" cy="296.20" r="1.30" fill="#28102f" stroke="none" stroke-width="0"/>
<rect x="453.90" y="296.20" width="2.80" height="86.10" fill="#8a9e95" stroke="none" stroke-width="0"/>
<rect x="459.65" y="296.20" width="2.90" height="86.10" fill="#9e89aa" stroke="none" stroke-width="0"/>
<circle cx="455.30" cy="296.20" r="1.30" fill="#10302a" stroke="none" stroke-width="0"/>
<circle cx="461.10" cy="296.20" r="1.30" fill="#28102f" stroke="none" stroke-width="0"/>
<rect x="470.10" y="296.20" width="2.80" height="86.10" fill="#8a9e95" stroke="none" stroke-width="0"/>
<rect x="475.85" y="296.20" width="2.90" height="86.10" fill="#9e89aa" stroke="none" stroke-width="0"/>
<circle cx="471.50" cy="296.20" r="1.30" fill="#10302a" stroke="none" stroke-width="0"/>
<circle cx="477.30" cy="296.20" r="1.30" fill="#28102f" stroke="none" stroke-width="0"/>
<rect x="485.90" y="296.20" width="2.80" height="86.10" fill="#8a9e95" stroke="none" stroke-width="0"/>
<rect x="491.65" y="296.20" width="2.90" height="86.10" fill="#9e89aa" stroke="none" stroke-width="0"/>
<circle cx="487.30" cy="296.20" r="1.30" fill="#10302a" stroke="none" stroke-width="0"/>
<circle cx="493.10" cy="296.20" r="1.30" fill="#28102f" stroke="none" stroke-width="0"/>
<rect x="501.90" y="296.20" width="2.80" height="86.10" fill="#8a9e95" stroke="none" stroke-width="0"/>
<rect x="507.65" y="296.20" width="2.90" height="86.10" fill="#9e89aa" stroke="none" stroke-width="0"/>
<circle cx="503.30" cy="296.20" r="1.30" fill="#10302a" stroke="none" stroke-width="0"/>
<circle cx="509.10" cy="296.20" r="1.30" fill="#28102f" stroke="none" stroke-width="0"/>
<line x1="434.70" y1="293.40" x2="434.70" y2="382.90" stroke="#222" stroke-width="1.2"/>
<line x1="431.70" y1="382.30" x2="434.70" y2="382.30" stroke="#222" stroke-width="1.0"/>
<text x="429.00" y="384.80" font-size="6.8" text-anchor="end" fill="#262626" class="t">0</text>
<line x1="431.70" y1="365.08" x2="434.70" y2="365.08" stroke="#222" stroke-width="1.0"/>
<text x="429.00" y="367.58" font-size="6.8" text-anchor="end" fill="#262626" class="t">20</text>
<line x1="431.70" y1="347.86" x2="434.70" y2="347.86" stroke="#222" stroke-width="1.0"/>
<text x="429.00" y="350.36" font-size="6.8" text-anchor="end" fill="#262626" class="t">40</text>
<line x1="431.70" y1="330.64" x2="434.70" y2="330.64" stroke="#222" stroke-width="1.0"/>
<text x="429.00" y="333.14" font-size="6.8" text-anchor="end" fill="#262626" class="t">60</text>
<line x1="431.70" y1="313.42" x2="434.70" y2="313.42" stroke="#222" stroke-width="1.0"/>
<text x="429.00" y="315.92" font-size="6.8" text-anchor="end" fill="#262626" class="t">80</text>
<line x1="431.70" y1="296.20" x2="434.70" y2="296.20" stroke="#222" stroke-width="1.0"/>
<text x="429.00" y="298.70" font-size="6.8" text-anchor="end" fill="#262626" class="t">100</text>
<line x1="434.00" y1="382.30" x2="512.40" y2="382.30" stroke="#222" stroke-width="1.2"/>
<line x1="442.10" y1="382.30" x2="442.10" y2="385.30" stroke="#222" stroke-width="1.0"/>
<line x1="458.20" y1="382.30" x2="458.20" y2="385.30" stroke="#222" stroke-width="1.0"/>
<line x1="474.40" y1="382.30" x2="474.40" y2="385.30" stroke="#222" stroke-width="1.0"/>
<line x1="490.20" y1="382.30" x2="490.20" y2="385.30" stroke="#222" stroke-width="1.0"/>
<line x1="506.20" y1="382.30" x2="506.20" y2="385.30" stroke="#222" stroke-width="1.0"/>
<text x="412.30" y="338.00" font-size="7.6" text-anchor="middle" fill="#1c1c1c" stroke="#1c1c1c" stroke-width="0.12" textLength="32.00" lengthAdjust="spacingAndGlyphs" transform="rotate(-90 412.30 338.00)">% editing</text>
<text x="446.90" y="392.50" font-size="7.0" text-anchor="end" fill="#262626" stroke="#262626" stroke-width="0.12" transform="rotate(-45 446.90 392.50)">PBMCs</text>
<text x="463.00" y="392.50" font-size="7.0" text-anchor="end" fill="#262626" stroke="#262626" stroke-width="0.12" transform="rotate(-45 463.00 392.50)">Spleen</text>
<text x="479.20" y="392.50" font-size="7.0" text-anchor="end" fill="#262626" stroke="#262626" stroke-width="0.12" transform="rotate(-45 479.20 392.50)">BM MNCs</text>
<text x="495.00" y="392.50" font-size="7.0" text-anchor="end" fill="#262626" stroke="#262626" stroke-width="0.12" transform="rotate(-45 495.00 392.50)">BM Lin<tspan font-size="4" dy="-2.6">−</tspan><tspan dy="2.6"></tspan></text>
<text x="511.00" y="392.50" font-size="7.0" text-anchor="end" fill="#262626" stroke="#262626" stroke-width="0.12" transform="rotate(-45 511.00 392.50)">Pooled CFU</text>
<rect x="0.5" y="0.5" width="519" height="425" fill="none" stroke="#545454" stroke-width="1"/>
</svg>
</body></html>
